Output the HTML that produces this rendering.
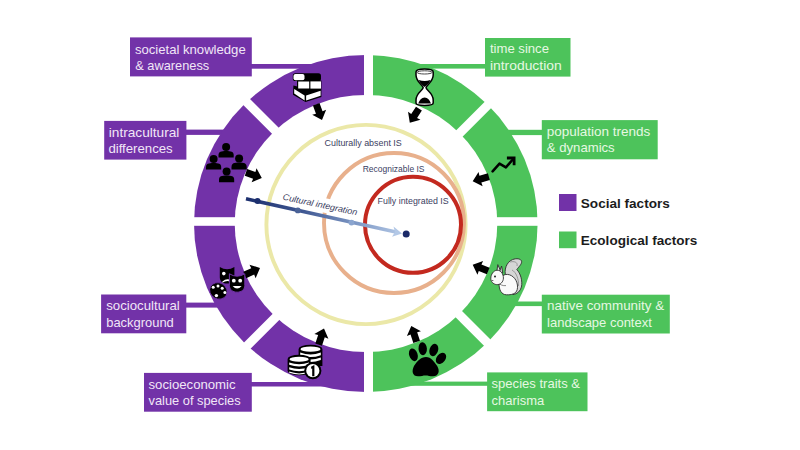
<!DOCTYPE html>
<html><head><meta charset="utf-8">
<style>
html,body{margin:0;padding:0;background:#fff;width:800px;height:450px;overflow:hidden}
svg{display:block}
text{font-family:"Liberation Sans",sans-serif}
.lp{fill:#f1e6f7;font-size:13.1px}
.lg{fill:#e6f8e2;font-size:13.1px}
.cl{fill:#3b3e62;font-size:8.7px}
.lgd{fill:#1c1c1c;font-size:13.4px;font-weight:bold}
</style></head>
<body>
<svg width="800" height="450" viewBox="0 0 800 450">
<defs>
<clipPath id="cL"><rect x="0" y="0" width="368.5" height="450"/></clipPath>
<clipPath id="cR"><rect x="368.5" y="0" width="431.5" height="450"/></clipPath>
<linearGradient id="ag" x1="246" y1="199" x2="402" y2="233" gradientUnits="userSpaceOnUse">
<stop offset="0" stop-color="#1c2f6e"/>
<stop offset="0.35" stop-color="#3d5590"/>
<stop offset="0.7" stop-color="#7d97c4"/>
<stop offset="1" stop-color="#b3c8e6"/>
</linearGradient>
<path id="arr" d="M0,0 L-8.2,-7.4 L-8,-3.5 L-16.8,-3.5 L-16.8,3.5 L-8,3.5 L-8.2,7.4 Z"/>
</defs>

<!-- connectors -->
<g fill="#7232A8">
<rect x="250" y="64" width="90" height="4.7"/>
<rect x="185" y="129.6" width="60" height="5.3"/>
<rect x="185" y="302.6" width="40" height="5"/>
<rect x="250" y="382" width="85" height="4.5"/>
</g>
<g fill="#4DC35B">
<rect x="400" y="64" width="86" height="4.6"/>
<rect x="490" y="129.8" width="52" height="5.3"/>
<rect x="500" y="301.5" width="43" height="4.6"/>
<rect x="400" y="381.6" width="88" height="4.2"/>
</g>

<!-- ring -->
<ellipse clip-path="url(#cL)" fill="#7232A8" cx="365.8" cy="223.5" rx="171.8" ry="168.5"/>
<ellipse clip-path="url(#cR)" fill="#4DC35B" cx="365.8" cy="223.5" rx="171.8" ry="168.5"/>
<ellipse fill="#fff" cx="366" cy="223.5" rx="131.3" ry="128.6"/>
<!-- gaps -->
<g fill="#fff">
<rect x="364" y="40" width="9" height="370"/>
<rect x="180" y="217.2" width="370" height="8.6"/>
</g>
<g stroke="#fff" stroke-width="9">
<line x1="216" y1="71.3" x2="516" y2="371.3"/>
<line x1="216" y1="376.9" x2="516" y2="76.9"/>
</g>

<!-- label boxes -->
<rect x="130" y="37.4" width="121.8" height="39.0" fill="#7232A8"/>
<text class="lp" x="134.95" y="53.5" textLength="110.75" lengthAdjust="spacingAndGlyphs">societal knowledge</text>
<text class="lp" x="135.2" y="70" textLength="74.0" lengthAdjust="spacingAndGlyphs">&amp; awareness</text>
<rect x="104.2" y="120.9" width="82.2" height="38.7" fill="#7232A8"/>
<text class="lp" x="108.8" y="136.6" textLength="70.6" lengthAdjust="spacingAndGlyphs">intracultural</text>
<text class="lp" x="108.4" y="152.9" textLength="64.3" lengthAdjust="spacingAndGlyphs">differences</text>
<rect x="101.1" y="294.5" width="85.2" height="38.8" fill="#7232A8"/>
<text class="lp" x="106.2" y="310" textLength="73.5" lengthAdjust="spacingAndGlyphs">sociocultural</text>
<text class="lp" x="106.2" y="326.6" textLength="67.6" lengthAdjust="spacingAndGlyphs">background</text>
<rect x="144" y="372.9" width="107.8" height="38.8" fill="#7232A8"/>
<text class="lp" x="148.5" y="388.7" textLength="87.1" lengthAdjust="spacingAndGlyphs">socioeconomic</text>
<text class="lp" x="148.5" y="405.2" textLength="92.1" lengthAdjust="spacingAndGlyphs">value of species</text>
<rect x="485" y="38" width="85.5" height="38.6" fill="#4DC35B"/>
<text class="lg" x="489.9" y="53.4" textLength="59.1" lengthAdjust="spacingAndGlyphs">time since</text>
<text class="lg" x="489.9" y="70.3" textLength="71.8" lengthAdjust="spacingAndGlyphs">introduction</text>
<rect x="541.8" y="120.1" width="115.9" height="39.2" fill="#4DC35B"/>
<text class="lg" x="546.8" y="135.9" textLength="103.5" lengthAdjust="spacingAndGlyphs">population trends</text>
<text class="lg" x="546.8" y="151.9" textLength="67.9" lengthAdjust="spacingAndGlyphs">&amp; dynamics</text>
<rect x="541.8" y="294.7" width="128.0" height="38.8" fill="#4DC35B"/>
<text class="lg" x="547.1" y="310.1" textLength="117.1" lengthAdjust="spacingAndGlyphs">native community &amp;</text>
<text class="lg" x="547.1" y="326.6" textLength="104.7" lengthAdjust="spacingAndGlyphs">landscape context</text>
<rect x="487.1" y="372.4" width="100.4" height="38.8" fill="#4DC35B"/>
<text class="lg" x="491.6" y="388" textLength="88.4" lengthAdjust="spacingAndGlyphs">species traits &amp;</text>
<text class="lg" x="491.6" y="404.9" textLength="52.6" lengthAdjust="spacingAndGlyphs">charisma</text>

<!-- legend -->
<rect x="559" y="194" width="17.5" height="17" fill="#7232A8"/>
<text class="lgd" x="580.8" y="208" textLength="89" lengthAdjust="spacingAndGlyphs">Social factors</text>
<rect x="559" y="231.5" width="17.5" height="16.7" fill="#4DC35B"/>
<text class="lgd" x="580.8" y="245.4" textLength="116.6" lengthAdjust="spacingAndGlyphs">Ecological factors</text>

<!-- circles -->
<circle cx="366" cy="224.5" r="99.6" fill="none" stroke="#ebe8a8" stroke-width="3.9"/>
<circle cx="394" cy="223" r="70" fill="none" stroke="#e8b08c" stroke-width="3.9"/>
<circle cx="413" cy="224.8" r="48" fill="none" stroke="#c3291f" stroke-width="4"/>

<text class="cl" x="324.6" y="146" textLength="77.2" lengthAdjust="spacingAndGlyphs">Culturally absent IS</text>
<text class="cl" x="362.7" y="171.5" textLength="61.8" lengthAdjust="spacingAndGlyphs">Recognizable IS</text>
<text class="cl" x="377.6" y="204" textLength="71.1" lengthAdjust="spacingAndGlyphs">Fully integrated IS</text>

<!-- cultural integration arrow -->
<rect x="-1.5" y="-10.3" width="80" height="14.4" fill="#fff" transform="translate(282.3,199.6) rotate(12)"/>
<line x1="246" y1="198.8" x2="397" y2="232.3" stroke="url(#ag)" stroke-width="3.6"/>
<path d="M402,233.5 L393.5,226.5 L395,232 L392,236.8 Z" fill="#b3c8e6"/>
<circle cx="257.5" cy="200.9" r="3" fill="#1c2f6e"/>
<circle cx="297.8" cy="210.4" r="2.9" fill="#4a6298"/>
<circle cx="351.5" cy="222.6" r="2.9" fill="#8ba5cf"/>
<circle cx="406.2" cy="234" r="3.5" fill="#1b2a68"/>
<text class="cl" font-size="9.6" font-style="italic" transform="translate(282.3,199.6) rotate(12)" textLength="76" lengthAdjust="spacingAndGlyphs">Cultural integration</text>

<!-- arrows -->
<g fill="#000">
<use href="#arr" transform="translate(322,120) rotate(69.9)"/>
<use href="#arr" transform="translate(261.8,178) rotate(19.4)"/>
<use href="#arr" transform="translate(260,268) rotate(-24.5)"/>
<use href="#arr" transform="translate(324,328.6) rotate(-71.4)"/>
<use href="#arr" transform="translate(409.8,122.7) rotate(122.9)"/>
<use href="#arr" transform="translate(472.7,181.3) rotate(164)"/>
<use href="#arr" transform="translate(472.7,264.7) rotate(202.4)"/>
<use href="#arr" transform="translate(411.3,325.9) rotate(-108.6)"/>
</g>

<!-- ICONS -->
<g id="icons">
<!-- books -->
<g>
<rect x="292.8" y="73.2" width="28.2" height="7.8" rx="2.6" fill="#000"/>
<rect x="293.5" y="74" width="11" height="6.2" rx="2" fill="#fff"/>
<path d="M293.4,85.4 L305.5,88.6 L297,88.6 L297,80.4 L321.4,80.4 L321.4,97 L305.5,102 L293,94.8 Z" fill="#000"/>
<rect x="298.2" y="81.5" width="11" height="7" fill="#fff"/>
<rect x="310.4" y="81.4" width="10.6" height="7.2" fill="#fff"/>
<path d="M294.2,89 L304.6,95.6 L304.6,100.4 L294.2,93.4 Z" fill="#fff"/>
<path d="M306.1,95.6 L320.6,90.8 L320.6,95.8 L306.1,100.4 Z" fill="#fff"/>
</g>
<!-- people -->
<g fill="#000">
<circle cx="226.1" cy="147" r="4"/>
<path d="M218.5,157.4 L218.5,155.20000000000002 C218.5,151.6 221.1,151 226.1,151 C231.1,151 233.7,151.6 233.7,155.20000000000002 L233.7,157.4 Z"/>
<circle cx="213.6" cy="159" r="4"/>
<path d="M206.0,169.6 L206.0,167.4 C206.0,163.6 208.6,163 213.6,163 C218.6,163 221.2,163.6 221.2,167.4 L221.2,169.6 Z"/>
<circle cx="239.1" cy="158.6" r="4"/>
<path d="M231.5,169.4 L231.5,167.20000000000002 C231.5,163.2 234.1,162.6 239.1,162.6 C244.1,162.6 246.7,163.2 246.7,167.20000000000002 L246.7,169.4 Z"/>
<circle cx="226.6" cy="171.6" r="4"/>
<path d="M219.0,182.2 L219.0,180.0 C219.0,176.2 221.6,175.6 226.6,175.6 C231.6,175.6 234.2,176.2 234.2,180.0 L234.2,182.2 Z"/>
</g>
<!-- masks + palette -->
<g>
<path d="M219.8,267 Q223.4,269.2 227.1,269.2 Q230.8,269.2 234.4,267 L234.4,277.4 C234.4,281.2 231.2,283.6 227.1,283.6 C223,283.6 219.8,281.2 219.8,277.4 Z" fill="#000"/>
<circle cx="223.8" cy="273.6" r="1.8" fill="#fff"/>
<path d="M222.4,281.6 Q226,278.2 229.8,279.6 L229.8,281.4 Q226,280.4 222.4,282.8 Z" fill="#fff"/>
<path d="M229.4,273.8 Q233.2,276.2 237.1,276.2 Q241,276.2 244.8,273.8 L244.8,285.4 C244.8,289.6 241.4,292.2 237.1,292.2 C232.8,292.2 229.4,289.6 229.4,285.4 Z" fill="#000" stroke="#7232A8" stroke-width="1"/>
<circle cx="233.8" cy="280.7" r="1.9" fill="#fff"/>
<circle cx="240.2" cy="280.7" r="1.9" fill="#fff"/>
<path d="M232.6,286 L241.6,286 Q237.1,291 232.6,286 Z" fill="#fff"/>
<ellipse cx="218.4" cy="290.9" rx="9" ry="8" transform="rotate(30 218.4 290.9)" fill="#000" stroke="#7232A8" stroke-width="0.8"/>
<g fill="#fff">
<circle cx="213.2" cy="287.3" r="1.5"/><circle cx="218" cy="286" r="1.5"/><circle cx="222.2" cy="288.2" r="1.5"/><circle cx="224.9" cy="292.4" r="1.5"/><circle cx="216.4" cy="295.6" r="1.7"/>
</g>
</g>
<!-- coins -->
<g>
<path d="M298.6,349 A11.9,4.2 0 0 1 322.4,349 L322.4,366 L298.6,366 Z" fill="#000"/>
<ellipse cx="310.5" cy="349.2" rx="10" ry="2.6" fill="#fff"/>
<path d="M300.2,352.6 Q310.5,356.4 320.8,352.6 L320.8,355.2 Q310.5,359 300.2,355.2 Z" fill="#fff"/>
<path d="M300.2,357.6 Q310.5,361.4 320.8,357.6 L320.8,360 Q310.5,363.8 300.2,360 Z" fill="#fff"/>
<path d="M287.6,359 A11.5,4.2 0 0 1 310.6,359 L310.6,371 A11.5,4.2 0 0 1 287.6,371 Z" fill="#000"/>
<ellipse cx="299.1" cy="359.2" rx="9.6" ry="2.5" fill="#fff"/>
<path d="M289.2,362.4 Q299.1,366 309,362.4 L309,364.8 Q299.1,368.4 289.2,364.8 Z" fill="#fff"/>
<path d="M289.2,367.2 Q299.1,370.8 309,367.2 L309,369.4 Q299.1,373 289.2,369.4 Z" fill="#fff"/>
<path d="M289.2,371.6 Q299.1,375.2 309,371.6 L309,372.8 Q299.1,376.4 289.2,372.8 Z" fill="#fff"/>
<circle cx="312.8" cy="370.7" r="8.6" fill="#000"/>
<circle cx="312.8" cy="370.7" r="6.6" fill="#fff"/>
<path d="M311,366.8 L313.8,365.2 L314.4,365.2 L314.4,376.2 L312.2,376.2 L312.2,368.4 L311.4,368.9 Z" fill="#000"/>
</g>
<!-- hourglass -->
<g>
<path d="M416,72 Q416,69 424.6,69 Q433.2,69 433.2,72 L433.2,75 C433.2,82 426.4,85 426,87.6 C426.4,90.2 433.2,93 433.2,100 L433.2,103 Q433.2,105.4 424.6,105.4 Q416,105.4 416,103 L416,100 C416,93 422.8,90.2 423.2,87.6 C422.8,85 416,82 416,75 Z" fill="#fff" stroke="#000" stroke-width="1.5"/>
<ellipse cx="424.6" cy="72.4" rx="7.6" ry="1.6" fill="none" stroke="#333" stroke-width="0.9"/>
<path d="M418.8,80 Q424.6,82 430.4,80 C429.8,83 426.4,85.4 424.6,87 C422.8,85.4 419.4,83 418.8,80 Z" fill="#000"/>
<path d="M418.2,103.6 Q420,97.8 424.6,97.4 Q429.2,97.8 431,103.6 Z" fill="#000"/>
</g>
<!-- trend -->
<g fill="none" stroke="#000" stroke-width="2.5" stroke-linejoin="round" stroke-linecap="round">
<polyline points="492.6,171.4 499.5,163.6 505.9,167.4 513.2,159"/>
<polyline stroke-width="2.8" stroke-linecap="butt" stroke-linejoin="miter" points="506.9,158 514.1,158 514.1,165.3"/>
</g>
<!-- squirrel -->
<g stroke="#2e2e2e" stroke-width="0.9" stroke-linejoin="round">
<path d="M506,277 C503.5,270 506.5,262 512.5,259.6 C516.5,258 521,258.6 521.6,261.4 C522,264 518.6,267 516.8,269.6 C520.4,273 522.8,281 521.4,287 C520.4,291 517.4,294 513,294.6 Z" fill="#d6d6d6"/>
<path d="M510,262 C514,261 518,262 517,266 M512,270 C516,272 519,279 518.5,286" fill="none" stroke="#888" stroke-width="0.8"/>
<path d="M499,283.5 C499,276.5 504.5,273.2 509.5,274.8 C515.5,276.8 518.6,283.6 517.2,289.6 C516,294 511.4,295 506.4,294.8 C501.4,294.6 499,290 499,283.5 Z" fill="#fafafa"/>
<path d="M497.6,282 C500,285 503,286 506,285.6" fill="none" stroke="#555" stroke-width="0.7"/>
<path d="M496.8,271.8 L497.8,264.6 L500.6,271 Z" fill="#e6e6e6"/>
<path d="M499.4,272 L501.6,266 L502.8,273 Z" fill="#d0d0d0"/>
<path d="M497,270.2 C501,270.2 503.4,274 503.4,278 C503.4,282 500.4,285 496.4,284.6 C493,284.2 490.6,281.2 490.8,278.2 C491,274.2 493.4,270.6 497,270.2 Z" fill="#fafafa"/>
<circle cx="495" cy="276.4" r="1" fill="#222" stroke="none"/>
<path d="M491.6,280.4 L493.4,280.6" fill="none" stroke="#444" stroke-width="0.8"/>
</g>
<!-- paw -->
<g fill="#000">
<ellipse cx="413.4" cy="354.8" rx="4.2" ry="6.5" transform="rotate(-18 413.4 354.8)"/>
<ellipse cx="422.7" cy="348.7" rx="4.2" ry="6.5" transform="rotate(-4 422.7 348.7)"/>
<ellipse cx="433.8" cy="350" rx="4.3" ry="6.4" transform="rotate(18 433.8 350)"/>
<ellipse cx="441" cy="358.4" rx="4.4" ry="6.3" transform="rotate(38 441 358.4)"/>
<path d="M426,357 C431,357 434.5,362 437.2,366 C440.2,371 438.6,376.3 433,376.3 C430,376.3 428,375.5 425.6,375.5 C423.2,375.5 421,376.3 418,376.3 C412.4,376.3 411.4,371 414,366 C417,361 421,357 426,357 Z"/>
</g>
</g>
</svg>
</body></html>
